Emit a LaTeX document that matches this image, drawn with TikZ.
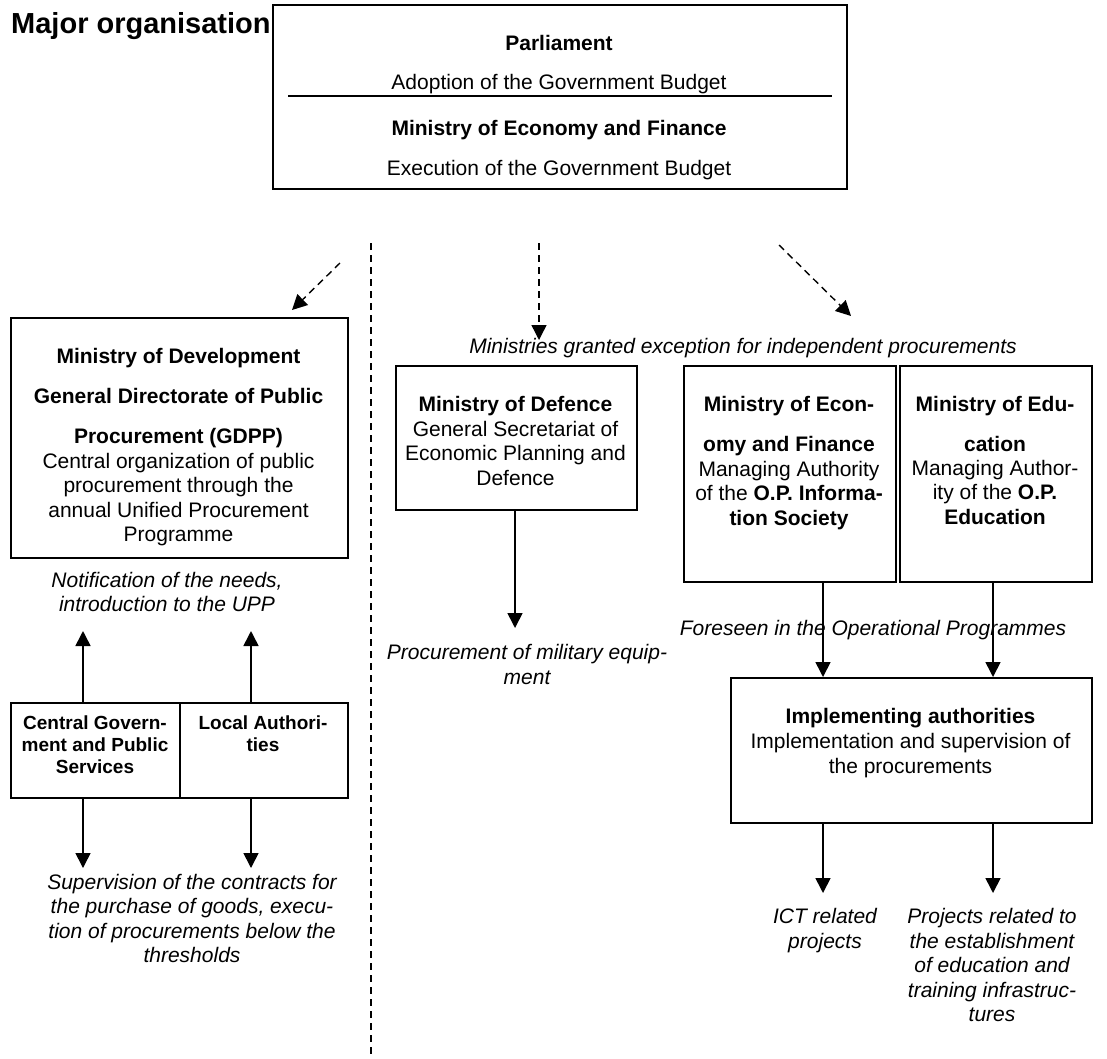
\documentclass[tikz,border=0pt]{standalone}
\usepackage{fontspec}
\setmainfont{Liberation Sans}
\usetikzlibrary{arrows.meta}
% struts that give every line the same height and depth
\newcommand\Sb{\rule[-4.75pt]{0pt}{24.5pt}}
\newcommand\Ss{\rule[-4.2pt]{0pt}{22pt}}
\begin{document}
\begin{tikzpicture}[x=1pt,y=-1pt,
  box/.style={draw, line width=1.8pt, inner sep=0pt, anchor=north west},
  txt/.style={inner sep=0pt, align=center, font=\fontsize{21}{24.5}\selectfont},
  bld/.style={txt, font=\fontsize{21}{24.5}\selectfont\bfseries},
  itx/.style={txt, font=\fontsize{21}{24.5}\selectfont\itshape},
  sml/.style={inner sep=0pt, align=center, font=\fontsize{19}{22}\selectfont\bfseries},
  arr/.style={line width=1.6pt, -{Triangle[width=15pt,length=15pt]}},
  darr/.style={line width=1.4pt, dash pattern=on 7pt off 5pt, -{Triangle[width=15pt,length=15pt]}},
  divider/.style={line width=1.4pt, dash pattern=on 7pt off 5pt}]

\fill[white] (0,0) rectangle (1107,1058);
\useasboundingbox (0,0) rectangle (1107,1058);

% heading
\node[anchor=base west, inner sep=0pt, font=\fontsize{29}{34}\selectfont\bfseries] (title) at (11,33) {Major organisation};

% budget authorities
\node[box, minimum width=574pt, minimum height=184pt] (top) at (272,4) {};
\node[bld] (parl) at (559,43) {\Sb Parliament};
\node[txt] (adopt) at (559,82) {\Sb Adoption of the Government Budget};
\draw[line width=1.8pt] (288,96) -- (832,96);
\node[bld] (mef) at (559,128) {\Sb Ministry of Economy and Finance};
\node[txt] (exec) at (559,168) {\Sb Execution of the Government Budget};

% separation between the two procurement routes
\coordinate (d1) at (371,243);
\coordinate (d2) at (371,1058);
\draw[divider] (d1) -- (d2);

% flows from the budget
\coordinate (la0) at (340,263); \coordinate (la1) at (292,310);
\coordinate (ma0) at (539,243); \coordinate (ma1) at (539,340);
\coordinate (ra0) at (779,245); \coordinate (ra1) at (851,316);
\node[itx] (except) at (743,346) {\Sb Ministries granted exception for independent procurements};
\draw[darr] (la0) -- (la1);
\draw[darr] (ma0) -- (ma1);
\draw[darr] (ra0) -- (ra1);

% central procurement
\node[box, minimum width=337pt, minimum height=240pt] (gdpp) at (10,317) {};
\node[bld] (gd1) at (178.5,356) {\Sb Ministry of Development};
\node[bld] (gd2) at (178.5,396) {\Sb General Directorate of Public};
\node[bld] (gd3) at (178.5,436) {\Sb Procurement (GDPP)};
\node[txt] (gd4) at (178.5,497.25) {\Sb Central organization of public\\\Sb procurement through the\\\Sb annual Unified Procurement\\\Sb Programme};

\node[itx] (notif) at (167,592) {\Sb Notification of the needs,\\\Sb introduction to the UPP};

\node[box, minimum width=169pt, minimum height=95pt] (cg) at (10,702) {};
\node[box, minimum width=168pt, minimum height=95pt] (la) at (179,702) {};
\node[sml] (cgt) at (95,745) {\Ss Central Govern-\\\Ss ment and Public\\\Ss Services};
\node[sml] (lat) at (263,734) {\Ss Local Authori-\\\Ss ties};

\coordinate (u1) at (83,631); \coordinate (u2) at (251,631);
\draw[arr] (cg.north -| u1) -- (u1);
\draw[arr] (la.north -| u2) -- (u2);
\coordinate (dn1) at (83,868); \coordinate (dn2) at (251,868);
\draw[arr] (cg.south -| dn1) -- (dn1);
\draw[arr] (la.south -| dn2) -- (dn2);

\node[itx] (superv) at (192,918.5) {\Sb Supervision of the contracts for\\\Sb the purchase of goods, execu-\\\Sb tion of procurements below the\\\Sb thresholds};

% defence
\node[box, minimum width=241pt, minimum height=144pt] (def) at (395,365) {};
\node[txt] (deft) at (515.5,440.75) {\Sb\textbf{Ministry of Defence}\\\Sb General Secretariat of\\\Sb Economic Planning and\\\Sb Defence};
\coordinate (dfa) at (515,628);
\draw[arr] (def.south -| dfa) -- (dfa);
\node[itx] (milit) at (527,664.5) {\Sb Procurement of military equip-\\\Sb ment};

% operational programmes
\node[box, minimum width=212pt, minimum height=216pt] (econ) at (683,365) {};
\node[bld] (ec1) at (789,404) {\Sb Ministry of Econ-};
\node[bld] (ec2) at (789,444) {\Sb omy and Finance};
\node[txt] (ec3) at (789,493) {\Sb Managing Authority\\\Sb of the \textbf{O.P. Informa-}\\\Sb\textbf{tion Society}};

\node[box, minimum width=192pt, minimum height=216pt] (edu) at (899,365) {};
\node[bld] (ed1) at (995,404) {\Sb Ministry of Edu-};
\node[bld] (ed2) at (995,444) {\Sb cation};
\node[txt] (ed3) at (995,492) {\Sb Managing Author-\\\Sb ity of the \textbf{O.P.}\\\Sb\textbf{Education}};

\node[itx] (fore) at (873,628) {\Sb Foreseen in the Operational Programmes};

\node[box, minimum width=361pt, minimum height=145pt] (impl) at (730,677) {};
\node[bld] (im1) at (910.5,716) {\Sb Implementing authorities};
\node[txt] (im2) at (910.5,753.5) {\Sb Implementation and supervision of\\\Sb the procurements};

\coordinate (ax1) at (823,0); \coordinate (ax2) at (993,0);
\draw[arr] (econ.south -| ax1) -- (impl.north -| ax1);
\draw[arr] (edu.south -| ax2) -- (impl.north -| ax2);

\coordinate (ict) at (823,893); \coordinate (prj) at (993,893);
\draw[arr] (impl.south -| ict) -- (ict);
\draw[arr] (impl.south -| prj) -- (prj);

\node[itx] (ictt) at (825,928.5) {\Sb ICT related\\\Sb projects};
\node[itx] (prjt) at (992,965) {\Sb Projects related to\\\Sb the establishment\\\Sb of education and\\\Sb training infrastruc-\\\Sb tures};
\end{tikzpicture}
\end{document}
